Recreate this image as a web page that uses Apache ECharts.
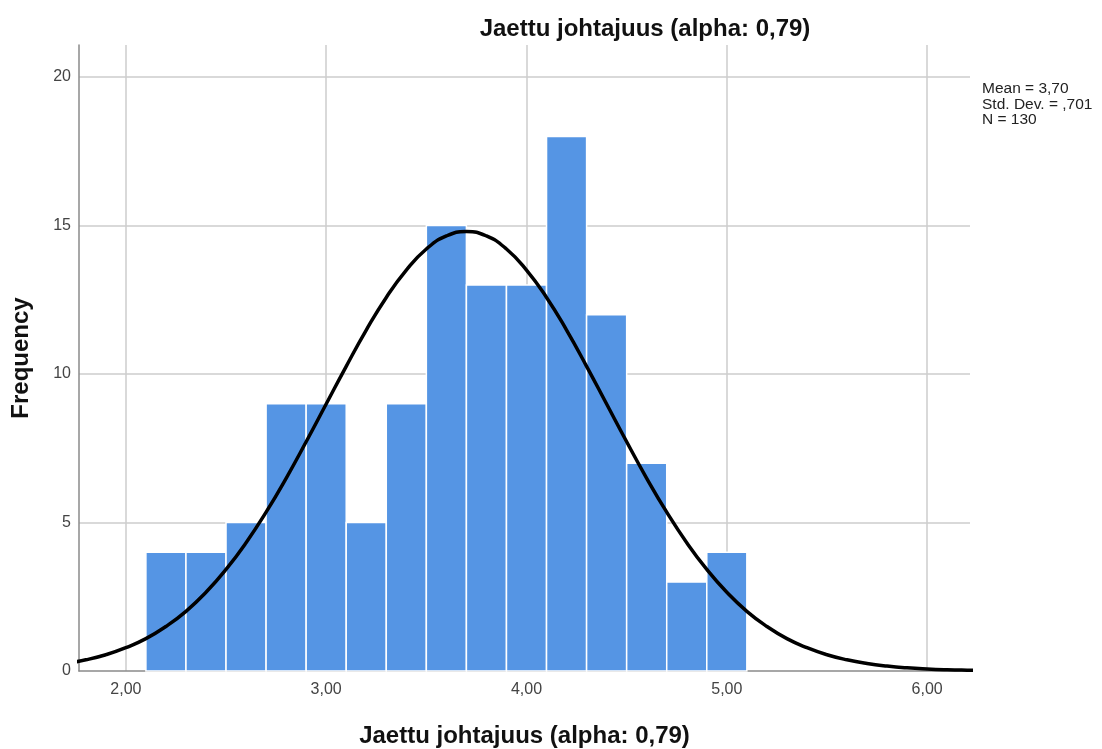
<!DOCTYPE html>
<html><head><meta charset="utf-8">
<script src="https://cdn.jsdelivr.net/npm/echarts@6/dist/echarts.min.js"></script>
<style>html,body{margin:0;padding:0;background:#fff}#c{width:1102px;height:749px}</style>
</head><body><div id="c"></div>
<script>
const titleText = 'Jaettu johtajuus (alpha: 0,79)';
const binStarts = [2.1, 2.3, 2.5, 2.7, 2.9, 3.1, 3.3, 3.5, 3.7, 3.9, 4.1, 4.3, 4.5, 4.7, 4.9];
const binWidth = 0.2;
const counts = [4, 4, 5, 9, 9, 5, 9, 15, 13, 13, 18, 12, 7, 3, 4];
const curveX = [1.6, 1.7, 1.8, 1.9, 2.0, 2.1, 2.2, 2.3, 2.4, 2.5, 2.6, 2.7, 2.8, 2.9, 3.0, 3.1, 3.2, 3.3, 3.4, 3.5, 3.6, 3.7, 3.8, 3.9, 4.0, 4.1, 4.2, 4.3, 4.4, 4.5, 4.6, 4.7, 4.8, 4.9, 5.0, 5.1, 5.2, 5.3, 5.4, 5.5, 5.6, 5.7, 5.8, 5.9, 6.0, 6.1, 6.2, 6.3, 6.4];
const curveY = [0.167, 0.253, 0.376, 0.547, 0.783, 1.09, 1.50, 2.01, 2.65, 3.42, 4.32, 5.35, 6.49, 7.72, 8.99, 10.26, 11.48, 12.58, 13.50, 14.21, 14.65, 14.8, 14.65, 14.21, 13.50, 12.58, 11.48, 10.26, 8.99, 7.72, 6.49, 5.35, 4.32, 3.42, 2.65, 2.01, 1.50, 1.09, 0.783, 0.547, 0.376, 0.253, 0.167, 0.107, 0.068, 0.042, 0.026, 0.015, 0.009];
const xTicks = [2, 3, 4, 5, 6];
const yTicks = [0, 5, 10, 15, 20];
const statsLines = ['Mean = 3,70', 'Std. Dev. = ,701', 'N = 130'];

const chart = echarts.init(document.getElementById('c'), null, {renderer: 'canvas'});
const font = 'Liberation Sans, Arial, sans-serif';
const barData = binStarts.map((s, i) => [s, s + binWidth, counts[i]]);
const curveData = curveX.map((x, i) => [x, curveY[i]]);
const gridLineStyle = {color: '#cdcdcd', width: 1.5, type: 'solid'};
const gridMarks = xTicks.map(v => ({xAxis: v})).concat(yTicks.filter(v => v > 0).map(v => ({yAxis: v})));

chart.setOption({
  animation: false,
  backgroundColor: '#fff',
  title: {
    text: titleText, left: 640, top: 12, textAlign: 'center',
    textStyle: {fontFamily: font, fontSize: 24, fontWeight: 'bold', color: '#111'}
  },
  graphic: [{
    type: 'text', left: 982, top: 81,
    style: {text: statsLines.join('\n'), fontFamily: font, fontSize: 15.5, lineHeight: 15.5, fill: '#222'}
  }],
  grid: {left: 79, right: 132, top: 45, bottom: 78, containLabel: false, outerBoundsMode: 'none'},
  xAxis: {
    type: 'value', min: 1.766, max: 6.214, splitNumber: 4,
    name: titleText, nameLocation: 'middle', nameGap: 53,
    nameTextStyle: {fontFamily: font, fontSize: 24, fontWeight: 'bold', color: '#111'},
    axisLine: {show: true, lineStyle: {color: '#8a8a8a', width: 1.5}},
    axisTick: {show: false},
    axisLabel: {
      showMinLabel: false, showMaxLabel: false, margin: 11,
      fontFamily: font, fontSize: 16, color: '#444',
      formatter: v => xTicks.indexOf(Math.round(v * 1000) / 1000) >= 0 ? v.toFixed(2).replace('.', ',') : ''
    },
    splitLine: {show: false}
  },
  yAxis: {
    type: 'value', min: 0, max: 21.08, interval: 5,
    name: 'Frequency', nameLocation: 'middle', nameGap: 46, nameRotate: 90,
    nameTextStyle: {fontFamily: font, fontSize: 24, fontWeight: 'bold', color: '#111'},
    axisLine: {show: true, lineStyle: {color: '#8a8a8a', width: 1.5}},
    axisTick: {show: false},
    axisLabel: {showMaxLabel: false, margin: 8, fontFamily: font, fontSize: 16, color: '#444'},
    splitLine: {show: false}
  },
  series: [{
    type: 'line', data: [], z: 0, silent: true,
    markLine: {
      z: 0, silent: true, symbol: ['none', 'none'], label: {show: false},
      lineStyle: gridLineStyle, emphasis: {disabled: true},
      data: gridMarks
    }
  }, {
    type: 'custom',
    data: barData,
    encode: {x: [0, 1], y: 2},
    renderItem: function (params, api) {
      const p0 = api.coord([api.value(0), api.value(2)]);
      const p1 = api.coord([api.value(1), 0]);
      return {
        type: 'rect',
        shape: {x: p0[0], y: p0[1], width: p1[0] - p0[0], height: p1[1] - p0[1]},
        style: {fill: '#5595E4', stroke: '#fff', lineWidth: 1.5}
      };
    },
    z: 2
  }, {
    type: 'line', data: curveData, smooth: true, symbol: 'none',
    lineStyle: {color: '#000', width: 3.5}, z: 3
  }]
});
</script></body></html>
